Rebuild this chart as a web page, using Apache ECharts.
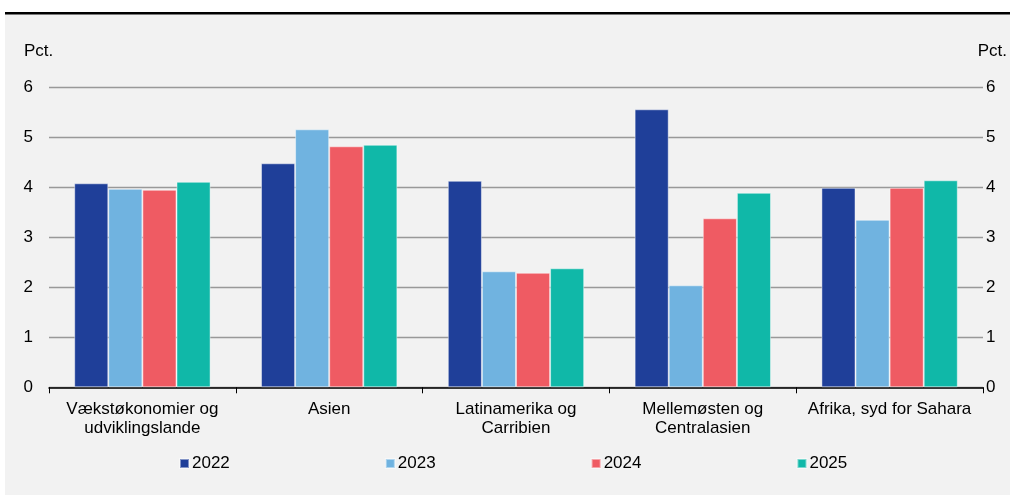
<!DOCTYPE html>
<html>
<head>
<meta charset="utf-8">
<script src="https://cdn.jsdelivr.net/npm/echarts@6/dist/echarts.min.js"></script>
<style>html,body{margin:0;padding:0;background:#fff}#c{width:1010px;height:495px}</style>
</head>
<body>
<div id="c"></div>
<script>
const categories = ["Vækstøkonomier og\nudviklingslande", "Asien", "Latinamerika og\nCarribien", "Mellemøsten og\nCentralasien", "Afrika, syd for Sahara"];
const seriesNames = ["2022", "2023", "2024", "2025"];
const v2022 = [4.08, 4.48, 4.13, 5.56, 3.99];
const v2023 = [3.97, 5.16, 2.32, 2.04, 3.35];
const v2024 = [3.95, 4.82, 2.29, 3.38, 3.99];
const v2025 = [4.11, 4.85, 2.38, 3.89, 4.14];
const yTicks = [0, 1, 2, 3, 4, 5, 6];
const colors = ["#1f3f99", "#70b3e0", "#ef5b63", "#10b8a8"];

const chart = echarts.init(document.getElementById('c'), null, {renderer: 'canvas'});
const font = "'Liberation Sans', Arial, sans-serif";
const fs = 17;
const vals = [v2022, v2023, v2024, v2025];
const yAxisBase = {
  type: 'value', min: yTicks[0], max: yTicks[yTicks.length - 1], interval: 1,
  axisLine: {show: false}, axisTick: {show: false},
  axisLabel: {color: '#000', fontSize: fs, fontFamily: font, margin: 16},
  name: 'Pct.', nameGap: 27,
  nameTextStyle: {color: '#000', fontSize: fs, fontFamily: font}
};
chart.setOption({
  backgroundColor: '#fff',
  animation: false,
  graphic: [
    {type: 'rect', z: -10, silent: true, shape: {x: 5, y: 14, width: 1005, height: 481}, style: {fill: '#f2f2f2'}},
    {type: 'rect', z: -9, silent: true, shape: {x: 5, y: 12, width: 1005, height: 2.5}, style: {fill: '#000'}}
  ],
  grid: {left: 49, right: 27, top: 87.3, bottom: 107.7, containLabel: false},
  legend: {
    data: seriesNames, left: 179, top: 455, padding: 0, itemWidth: 9, itemHeight: 9, itemGap: 155,
    icon: 'rect',
    textStyle: {color: '#000', fontSize: fs, fontFamily: font, padding: [0, 0, 0, -2]}
  },
  xAxis: {
    type: 'category', data: categories,
    axisLine: {lineStyle: {color: '#000', width: 1.5}},
    axisTick: {show: true, alignWithLabel: false, length: 6, lineStyle: {color: '#000'}},
    axisLabel: {color: '#000', fontSize: fs, fontFamily: font, margin: 13, lineHeight: 19, interval: 0}
  },
  yAxis: [
    Object.assign({}, yAxisBase, {
      position: 'left',
      nameTextStyle: {color: '#000', fontSize: fs, fontFamily: font, align: 'left', padding: [0, 0, 0, -25]},
      splitLine: {show: true, lineStyle: {color: '#999', width: 1.3}}
    }),
    Object.assign({}, yAxisBase, {
      position: 'right',
      axisLabel: {color: '#000', fontSize: fs, fontFamily: font, margin: 3},
      nameTextStyle: {color: '#000', fontSize: fs, fontFamily: font, align: 'right', padding: [0, -24, 0, 0]},
      splitLine: {show: false}
    })
  ],
  series: seriesNames.map((n, i) => ({
    name: n, type: 'bar', data: vals[i], yAxisIndex: 0,
    barGap: '0%', barCategoryGap: '27%',
    itemStyle: {color: colors[i], borderColor: 'rgba(255,255,255,0.45)', borderWidth: 1}
  }))
});
</script>
</body>
</html>
